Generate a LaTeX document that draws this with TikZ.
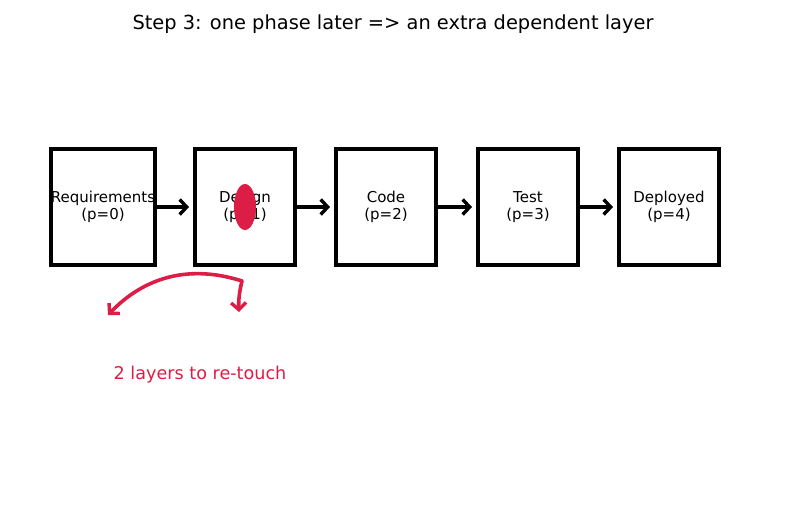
\documentclass[tikz,border=0pt]{standalone}
\usepackage{fontspec}
\setmainfont{DejaVu Sans}
\usetikzlibrary{arrows.meta,shapes.geometric}
\definecolor{hotred}{RGB}{220,30,70}
\tikzset{
  phase/.style={draw, line width=4pt, minimum width=100pt, minimum height=116pt,
    align=center, font=\fontsize{15}{17.5}\selectfont, inner sep=0pt},
  flow/.style={line width=3.6pt, -{Straight Barb[length=7pt,width=15pt,line width=3.4pt]}},
  retouch/.style={hotred, line width=3.6pt, line cap=round,
    -{Straight Barb[length=7pt,width=15pt,line width=3.4pt]}}
}
\begin{document}
\begin{tikzpicture}[x=1pt, y=-1pt]
  \useasboundingbox (0,0) rectangle (787,507);
  \node (title) at (393,24) {\fontsize{19.4}{22}\selectfont Step 3: one phase later => an extra dependent layer};

  % the phases
  \node[phase] (req)  at (103,207) {Requirements\\(p=0)};
  \node[phase] (des)  at (245,207) {Design\\(p=1)};
  \node[phase] (code) at (386,207) {Code\\(p=2)};
  \node[phase] (test) at (528,207) {Test\\(p=3)};
  \node[phase] (dep)  at (669,207) {Deployed\\(p=4)};
  \foreach \a/\b in {req/des, des/code, code/test, test/dep} {
    \draw[flow] (\a.east) -- ([xshift=-4pt]\b.west);
  }

  % the change and what it touches
  \fill[hotred] (des.center) ellipse [x radius=11, y radius=23];
  \coordinate (src)  at (242,281);
  \coordinate (far)  at (108,315);
  \coordinate (near) at (239,312);
  \draw[retouch] (src) to[bend right=32] (far);
  \draw[retouch] (src) to[bend right=8] (near);
  \node[hotred, font=\fontsize{17.6}{20}\selectfont] (note) at (200,375) {2 layers to re-touch};
\end{tikzpicture}
\end{document}
